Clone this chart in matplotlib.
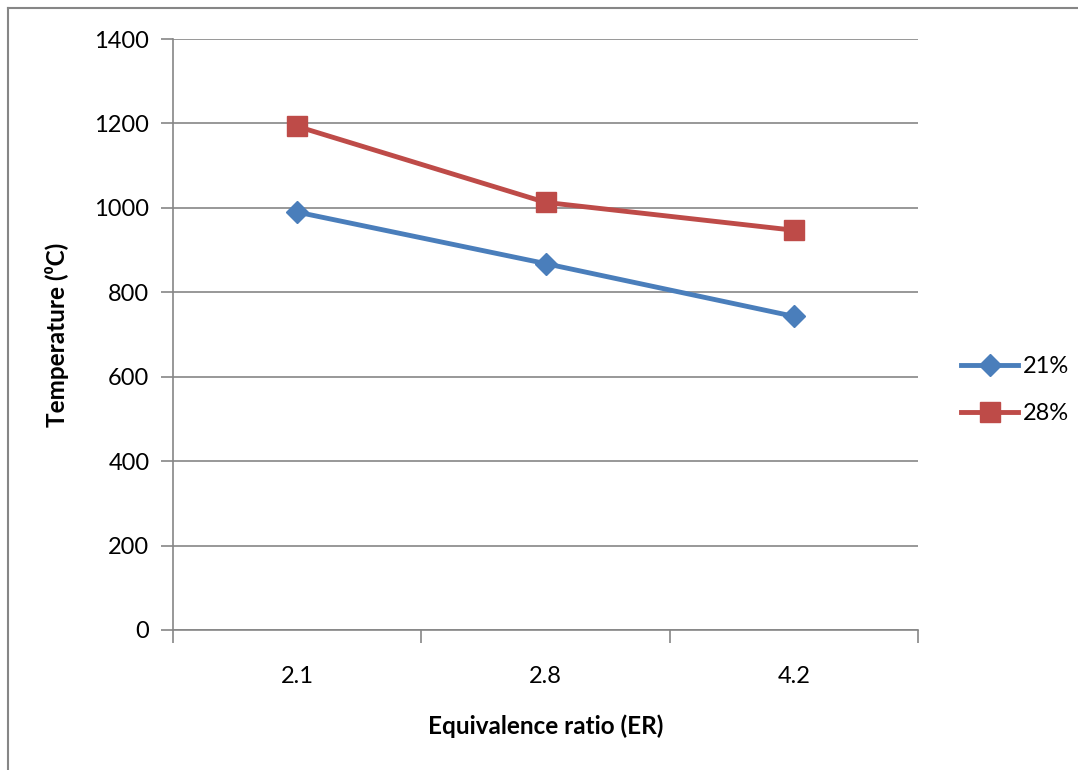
import matplotlib
matplotlib.use("Agg")
import matplotlib.pyplot as plt
from matplotlib.lines import Line2D
import numpy as np

# data
er_labels = ["2.1", "2.8", "4.2"]
temp_21 = [990, 868, 743]
temp_28 = [1193, 1013, 947]
series_names = ["21%", "28%"]

plt.rcParams['font.family'] = ['Lato', 'DejaVu Sans']

fig = plt.figure(figsize=(10.78, 7.70), dpi=100)
ax = fig.add_axes([173/1078, 140/770, (918-173)/1078, (630-39)/770])

grey = '#868686'
blue = '#4A7EBB'
red = '#BE4B48'

x = np.arange(len(er_labels))
ax.plot(x, temp_21, color=blue, lw=3.5, marker='D', ms=11,
        label=series_names[0], zorder=3, solid_joinstyle='round')
ax.plot(x, temp_28, color=red, lw=3.5, marker='s', ms=14,
        label=series_names[1], zorder=3, solid_joinstyle='round')

ax.set_xlim(-0.5, len(er_labels) - 0.5)
ax.set_ylim(0, 1400)
ax.set_yticks(np.arange(0, 1401, 200))
ax.set_xticks(x)
ax.set_xticklabels(er_labels)
ax.set_xticks(np.arange(-0.5, len(er_labels), 1), minor=True)
ax.tick_params(axis='x', which='major', length=0, pad=26, labelsize=17)
ax.tick_params(axis='x', which='minor', length=9, color=grey, width=1.2, direction='out')
ax.tick_params(axis='y', length=9, color=grey, width=1.2, pad=8, labelsize=17)

ax.grid(axis='y', color=grey, lw=1.2)
ax.set_axisbelow(True)
for s in ['top', 'right']:
    ax.spines[s].set_visible(False)
for s in ['left', 'bottom']:
    ax.spines[s].set_color(grey)
    ax.spines[s].set_linewidth(1.2)

ax.set_xlabel('Equivalence ratio (ER)', fontsize=17.5, fontweight='bold', labelpad=20)
ax.set_ylabel('Temperature (\u2070C)', fontsize=17.5, fontweight='bold', labelpad=18)

fig.legend(loc='center left', bbox_to_anchor=(940/1078, 1 - 390/770),
           frameon=False, fontsize=17, handlelength=2.4, labelspacing=1.1,
           handletextpad=0.2)

# outer chart border (only left and top visible)
fig.add_artist(Line2D([8/1078, 8/1078], [0, 1 - 8/770], color=grey, lw=1.5))
fig.add_artist(Line2D([8/1078, 1], [1 - 8/770, 1 - 8/770], color=grey, lw=1.5))

fig.savefig('out.png', dpi=100)
